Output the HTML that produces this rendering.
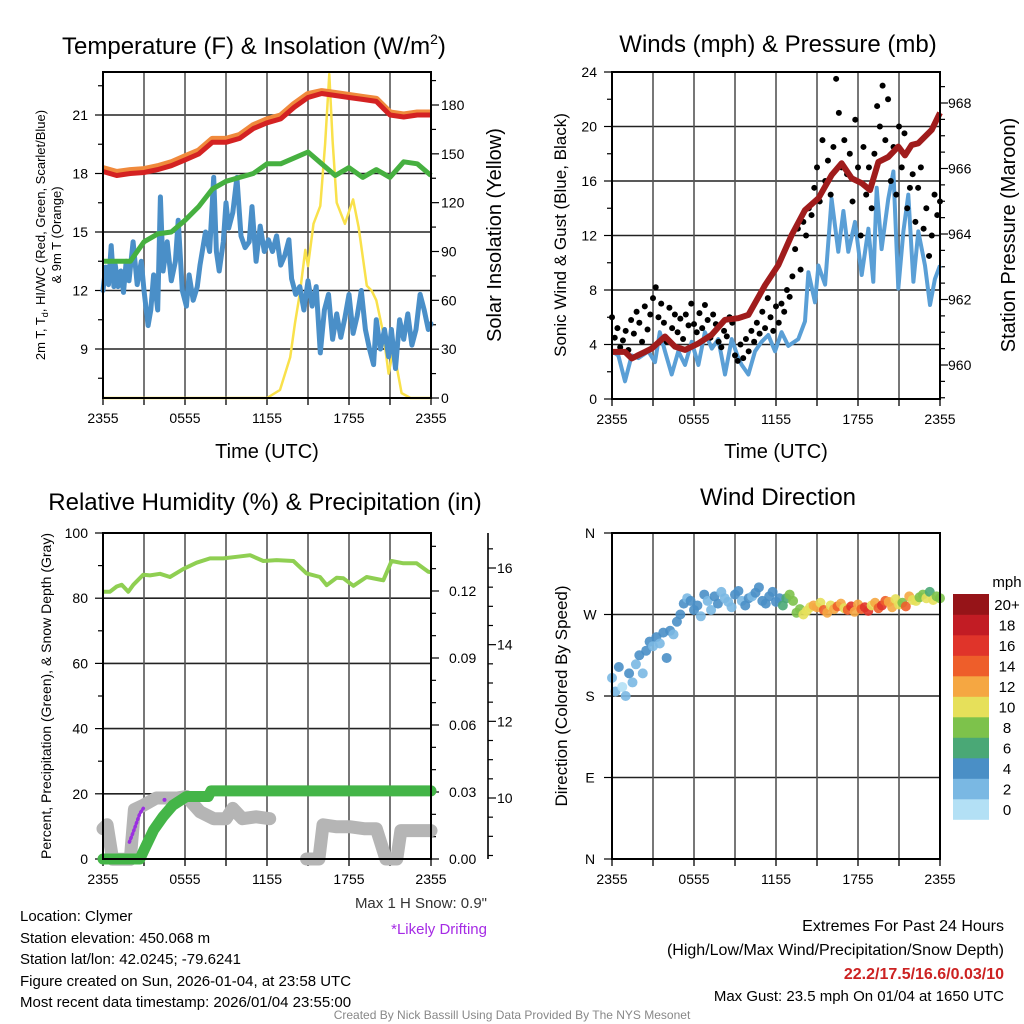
<!DOCTYPE html>
<html><head><meta charset="utf-8"><style>
html,body{margin:0;padding:0;background:#fff;}
svg{display:block;font-family:"Liberation Sans",Arial,sans-serif;}
</style></head><body>
<svg id="chart" width="1024" height="1024" viewBox="0 0 1024 1024" xmlns="http://www.w3.org/2000/svg"></svg>
<script>
// ---------- DATA ----------
const xTickLabels = ["2355","0555","1155","1755","2355"];
// Panel 1
const tempHours = [0,1,2,3,4,5,6,7,8,9,10,11,12,13,14,15,16,17,18,19,20,21,22,23,24];
const temp2m = [18.1,17.9,18.0,18.05,18.2,18.4,18.7,19.0,19.6,19.6,19.8,20.3,20.6,20.8,21.4,21.9,22.1,22.0,21.9,21.8,21.7,21.0,20.9,21.0,21.0];
const temp9m = [18.25,18.05,18.15,18.2,18.35,18.55,18.85,19.15,19.75,19.75,19.95,20.45,20.75,20.95,21.55,22.05,22.2,22.1,22.0,21.9,21.8,21.1,21.0,21.1,21.1];
const dewpt = [13.5,13.5,13.5,14.5,14.9,15.0,15.6,16.3,17.2,17.6,17.8,18.0,18.5,18.5,18.8,19.1,18.5,17.9,18.3,17.8,18.2,17.8,18.6,18.5,17.9];
const wcHours = [0,0.2,0.4,0.6,0.8,0.9,1.1,1.3,1.5,1.7,1.9,2.2,2.5,2.8,3.0,3.3,3.5,3.7,4.0,4.2,4.4,4.7,5.0,5.3,5.5,5.8,6.1,6.3,6.6,6.9,7.1,7.5,7.8,8.1,8.3,8.5,8.8,9.0,9.2,9.5,9.8,10.1,10.4,10.7,10.9,11.2,11.5,11.8,12.1,12.4,12.7,13.0,13.3,13.6,13.8,14.1,14.4,14.7,15.0,15.3,15.6,15.9,16.2,16.5,16.8,17.1,17.4,17.7,18.0,18.3,18.6,18.9,19.2,19.5,19.8,20.0,20.3,20.6,20.9,21.1,21.4,21.7,22.0,22.3,22.6,22.9,23.2,23.5,23.8,24.0];
const windChill = [12.0,13.2,12.3,14.3,12.2,13.3,12.2,13.0,11.9,13.5,12.5,14.5,12.3,13.5,12.0,10.2,11.0,12.8,11.0,16.8,13.0,14.5,12.5,13.5,15.6,12.0,11.2,12.8,11.5,12.2,13.3,15.0,14.0,17.8,14.0,13.0,14.5,16.5,15.2,16.0,17.8,14.8,14.2,14.5,16.3,13.5,15.3,14.0,14.6,14.0,14.8,13.3,13.8,14.6,12.6,11.8,12.2,11.0,12.5,11.2,12.2,8.8,11.0,11.8,9.5,10.8,9.6,10.6,11.8,9.8,10.7,12.0,10.0,9.0,8.2,10.5,9.0,10.0,8.6,10.0,8.0,10.5,9.5,10.8,9.2,10.0,11.8,11.0,10.0,10.3];
const solarHours = [0,12.0,12.95,13.7,14.05,14.4,14.8,15.0,15.4,15.9,16.25,16.56,16.8,17.1,17.7,18.3,18.7,19.3,19.65,20.0,20.5,20.9,21.25,21.5,21.85,22.5,24];
const solar = [0,0,5,25,46,64,91,81,107,118,156,199,158,120,107,122,105,69,66,60,40,15,30,19,3,0,0];
// Panel 2
const windHours = [0,0.46,0.95,1.44,1.93,2.66,3.15,3.5,3.88,4.37,4.85,5.34,5.83,6.32,6.8,7.3,7.78,8.27,8.76,9.24,9.49,9.98,10.46,10.95,11.44,11.93,12.41,12.9,13.63,14.12,14.37,14.85,15.1,15.59,16.07,16.56,16.93,17.29,17.78,18.27,18.76,19.12,19.37,19.73,20.22,20.59,20.95,21.32,21.68,22.05,22.41,22.9,23.27,23.63,24];
const windSpeed = [3.5,3.2,1.3,3.2,3.0,3.5,2.7,4.9,3.5,1.8,3.5,2.5,4.2,2.5,4.9,3.7,4.4,1.8,4.4,3.0,2.5,1.8,3.5,4.2,4.7,3.5,4.9,3.9,4.4,5.7,9.3,7.1,9.8,8.4,14.7,10.8,13.8,10.8,13.0,9.1,12.5,8.6,15.5,11.0,14.7,16.7,8.1,12.3,15.0,8.6,12.3,9.8,6.9,8.8,9.8];
const gusts = [6,4.5,5.2,3.8,4.3,5.0,3.6,5.8,4.8,6.4,5.6,4.2,6.8,5.1,6.2,7.4,8.2,6.0,7.0,5.6,4.2,6.7,5.2,6.2,4.9,5.9,4.4,6.2,5.4,7.0,5.5,4.9,6.3,5.2,6.9,5.8,4.5,6.2,5.5,4.2,3.8,5.0,4.6,6.0,5.6,3.2,2.8,4.0,3.0,4.4,3.5,5.0,4.2,5.6,4.8,6.4,5.2,7.4,6.0,5.0,6.8,5.6,7.0,6.4,8.0,7.5,9.0,11.0,12.5,9.5,13.0,12.0,14.0,13.5,15.5,17.0,14.5,19.0,16.0,17.5,15.0,18.5,23.5,21.0,17.0,19.0,16.5,18.0,14.5,20.5,17.0,12.0,18.5,15.0,17.0,14.0,18.0,21.5,20.0,23.0,19.0,22.0,16.0,18.5,15.0,20.0,17.0,19.5,14.0,15.5,16.5,13.0,15.5,17.0,12.5,14.0,10.5,12.0,15.0,13.5,14.5];
const presHours = [0,0.95,1.44,2.41,2.9,3.88,4.61,5.34,6.32,7.29,8.27,9.24,9.98,11.2,12.17,13.15,14.12,15.1,16.07,16.8,17.54,18.27,18.88,19.49,20.22,20.95,21.44,21.93,22.41,23.39,24];
const pressure = [960.4,960.4,960.2,960.4,960.5,960.87,960.56,960.46,960.66,960.92,961.38,961.43,961.53,962.44,963.05,963.97,964.73,965.09,965.8,966.16,965.7,965.55,965.34,966.2,966.35,966.67,966.4,966.72,966.77,967.18,967.7];
// Panel 3
const rhHours = [0,0.51,1.0,1.37,1.85,2.22,2.95,3.44,4.17,4.9,5.88,6.85,7.83,8.8,9.78,10.76,11.73,12.7,13.93,14.9,15.88,16.37,17.1,17.59,18.32,19.29,20.51,21.12,21.98,22.95,23.8,24];
const rh = [82.0,82.0,83.6,84.1,82.0,84.1,87.2,87.0,87.5,86.5,89.0,90.9,92.2,92.2,92.7,93.2,91.4,91.7,91.4,87.6,86.5,84.0,86.3,86.1,83.8,86.5,85.5,91.4,90.7,90.7,88.1,88.0];
const precipHours = [0,2.7,3.0,3.7,4.4,5.1,6.1,7.7,7.9,24];
const precip = [0,0,0.004,0.013,0.019,0.024,0.028,0.028,0.0305,0.0305];
const snowHours1 = [0,0.3,0.7,2.0,2.3,2.9,3.9,4.6,5.4,6.1,7.1,8.1,9.0,9.5,10.2,11.2,12.2];
const snow1 = [9.2,9.3,8.4,8.4,9.7,9.8,10.0,10.0,10.0,10.04,9.64,9.46,9.46,9.73,9.46,9.51,9.46];
const snowHours2 = [14.9,15.8,16.1,17.1,18.1,19.1,20.0,20.7,21.5,21.8,22.9,24];
const snow2 = [8.41,8.41,9.3,9.25,9.25,9.2,9.2,8.41,8.41,9.15,9.15,9.15];
const driftHours = [1.93,2.2,2.45,2.7,2.95];
const drift = [8.85,9.1,9.35,9.6,9.73];
const driftHours2 = [4.5];
const drift2 = [9.95];
// Panel 4
const dirDeg = [200,185,212,190,180,205,195,215,225,205,230,240,235,245,238,250,222,252,248,262,270,282,288,285,275,280,268,292,285,275,290,282,295,288,284,278,292,296,285,280,288,290,294,300,285,282,290,295,284,288,280,288,292,285,272,276,270,274,278,280,278,283,275,272,280,276,279,282,277,275,279,273,281,276,278,274,280,283,277,280,285,284,278,287,281,283,279,290,286,285,289,292,288,295,286,290,288];
const dirSpeed = [3,2,4,1.5,3,5,3,2,4,3,5,4,2,5,3,4,5,4,3,5,4,5,3,4,5,4,3,5,2,3,5,4,3,3,2,3,5,4,3,4,5,3,5,4,5,4,5,4,5,5,6,7,8,9,8,9,10,11,10,12,13,11,14,12,10,13,15,12,11,14,16,13,12,15,17,16,11,13,15,17,14,12,13,10,11,9,15,12,11,10,9,8,11,7,10,9,8];
const cbLabels = ["0","2","4","6","8","10","12","14","16","18","20+"];
const cbColors = ["#b3e0f5","#7ab8e3","#4a8fc6","#4aa876","#7dc24b","#e6e05a","#f5a742","#ee5e2a","#e0342a","#c21c24","#961418"];

// ---------- HELPERS ----------
const NS = "http://www.w3.org/2000/svg";
const svg = document.getElementById("chart");
function mk(tag, attrs, parent){
  const e = document.createElementNS(NS, tag);
  for (const k in attrs) e.setAttribute(k, attrs[k]);
  (parent || svg).appendChild(e);
  return e;
}
function txt(str, x, y, size, anchor, parent, extra){
  const e = mk("text", Object.assign({x:x, y:y, "font-size":size, "text-anchor":anchor||"start", fill:"#000"}, extra||{}), parent);
  e.textContent = str;
  return e;
}
function scale(d0, d1, r0, r1){ return v => r0 + (v - d0) * (r1 - r0) / (d1 - d0); }
function pathD(xs, ys, fx, fy){ return xs.map((h,i)=> (i?"L":"M") + fx(h).toFixed(1) + "," + fy(ys[i]).toFixed(1)).join(""); }

function frame(x0, y0, x1, y1, name){
  const g = mk("g", {});
  
  
  return g;
}
function vgrid(g, x0, x1, y0, y1, fx){
  for (let h = 3; h < 24; h += 3){
    const l = mk("line", {x1:fx(h), x2:fx(h), y1:y0, y2:y1, stroke:"#555", "stroke-width":1.6}, g);
    
    
  }
  for (let h = 0; h <= 24; h += 3){
    const t = mk("line", {x1:fx(h), x2:fx(h), y1:y1, y2:y1+7, stroke:"#000", "stroke-width":1.3}, g);
    
    
  }
  xTickLabels.forEach((s,i)=>{
    const t = txt(s, fx(i*6), y1+25, 14, "middle", g);
    
    
  });
}
function hgrid(g, x0, x1, y){
  const l = mk("line", {x1:x0, x2:x1, y1:y, y2:y, stroke:"#222", "stroke-width":1.6}, g);
  
  
}
function tick(g, x, y, len){
  const t = mk("line", {x1:x, x2:x+len, y1:y, y2:y, stroke:"#000", "stroke-width":1.2}, g);
  
  
}
function border(g, x0, y0, x1, y1){
  const r = mk("rect", {x:x0, y:y0, width:x1-x0, height:y1-y0, fill:"none", stroke:"#000", "stroke-width":2}, g);
  
  
}

// ---------- PANEL 1 ----------
(function(){
  const X0=103, X1=431, Y0=72, Y1=398;
  const fx = scale(0,24,X0,X1);
  const fy = scale(9,21,349,115);
  const fs = scale(0,180,398,105);
  const g = frame(X0,Y0,X1,Y1,"temperature-panel");
  [9,12,15,18,21].forEach(v=>hgrid(g,X0,X1,fy(v)));
  vgrid(g,X0,X1,Y0,Y1,fx);
  for (let v=7.5; v<=22.5; v+=1.5) tick(g, X0, fy(v), (v%3===0)?-8:-5);
  [9,12,15,18,21].forEach(v=>{ const t=txt(String(v), 88, fy(v)+5, 14, "end", g);   });
  for (let v=0; v<=195; v+=15) tick(g, X1, fs(v), (v%30===0)?8:5);
  [0,30,60,90,120,150,180].forEach(v=>{ const t=txt(String(v), 441, fs(v)+5, 14, "start", g);   });

  const so = mk("path", {d:pathD(solarHours,solar,fx,fs), fill:"none", stroke:"#f9e14b", "stroke-width":2.5, "stroke-linejoin":"round"}, g);
  
  
  const wc = mk("path", {d:pathD(wcHours,windChill,fx,fy), fill:"none", stroke:"#4a8fc8", "stroke-width":5, "stroke-linejoin":"round", "stroke-linecap":"round"}, g);
  
  
  const dp = mk("path", {d:pathD(tempHours,dewpt,fx,fy), fill:"none", stroke:"#46b040", "stroke-width":5, "stroke-linejoin":"round"}, g);
  
  
  const t9 = mk("path", {d:pathD(tempHours,temp9m,fx,fy), fill:"none", stroke:"#f08a3c", "stroke-width":7, "stroke-linejoin":"round"}, g);
  
  
  const t2 = mk("path", {d:pathD(tempHours,temp2m,fx,fy), fill:"none", stroke:"#d42222", "stroke-width":5, "stroke-linejoin":"round"}, g);
  
  
  border(g,X0,Y0,X1,Y1);
  const ti = txt("Temperature (F) & Insolation (W/m", 62, 54, 24, "start", g);
  const sup = mk("tspan", {dy:-10, "font-size":14}, ti); sup.textContent="2";
  const cl = mk("tspan", {dy:10}, ti); cl.textContent=")";
  
  
  const xt = txt("Time (UTC)", 267, 458, 20, "middle", g);
  
  
  const yl = txt("2m T, T", 0, 0, 13, "middle", g, {transform:"translate(45,235) rotate(-90)"});
  const sd = mk("tspan", {dy:3, "font-size":9}, yl); sd.textContent="d";
  const r2 = mk("tspan", {dy:-3}, yl); r2.textContent=", HI/WC (Red, Green, Scarlet/Blue)";
  
  
  const yl2 = txt("& 9m T (Orange)", 0, 0, 13, "middle", g, {transform:"translate(61,235) rotate(-90)"});
  
  
  const yr = txt("Solar Insolation (Yellow)", 0, 0, 20, "middle", g, {transform:"translate(501,235) rotate(-90)"});
  
  
})();

// ---------- PANEL 2 ----------
(function(){
  const X0=612, X1=940, Y0=72, Y1=399;
  const fx = scale(0,24,X0,X1);
  const fy = scale(0,24,Y1,Y0);
  const fp = scale(960,968,365,103);
  const g = frame(X0,Y0,X1,Y1,"winds-panel");
  [4,8,12,16,20].forEach(v=>hgrid(g,X0,X1,fy(v)));
  vgrid(g,X0,X1,Y0,Y1,fx);
  for (let v=0; v<=24; v+=2) tick(g, X0, fy(v), (v%4===0)?-8:-5);
  [0,4,8,12,16,20,24].forEach(v=>{ const t=txt(String(v), 597, fy(v)+5, 14, "end", g);   });
  for (let v=959; v<=968.5; v+=0.5) tick(g, X1, fp(v), (v%2===0)?8:5);
  [960,962,964,966,968].forEach(v=>{ const t=txt(String(v), 948, fp(v)+5, 14, "start", g);   });

  const ws = mk("path", {d:pathD(windHours,windSpeed,fx,fy), fill:"none", stroke:"#5a9fd6", "stroke-width":4, "stroke-linejoin":"round"}, g);
  
  
  gusts.forEach((v,i)=>{
    const c = mk("circle", {cx:fx(i*24/(gusts.length-1)), cy:fy(v), r:3, fill:"#000"}, g);
    
    
  });
  const pr = mk("path", {d:pathD(presHours,pressure,fx,fp), fill:"none", stroke:"#a01c1c", "stroke-width":6, "stroke-linejoin":"round"}, g);
  
  
  border(g,X0,Y0,X1,Y1);
  const ti = txt("Winds (mph) & Pressure (mb)", 778, 52, 24, "middle", g);
  
  
  const xt = txt("Time (UTC)", 776, 458, 20, "middle", g);
  
  
  const yl = txt("Sonic Wind & Gust (Blue, Black)", 0, 0, 17, "middle", g, {transform:"translate(566,235) rotate(-90)"});
  
  
  const yr = txt("Station Pressure (Maroon)", 0, 0, 20, "middle", g, {transform:"translate(1015,235) rotate(-90)"});
  
  
})();

// ---------- PANEL 3 ----------
(function(){
  const X0=103, X1=431, Y0=533, Y1=859;
  const fx = scale(0,24,X0,X1);
  const fy = scale(0,100,Y1,Y0);
  const fp = scale(0,0.12,Y1,591);
  const fsn = scale(10,16,798,568);
  const g = frame(X0,Y0,X1,Y1,"humidity-panel");
  [20,40,60,80].forEach(v=>hgrid(g,X0,X1,fy(v)));
  vgrid(g,X0,X1,Y0,Y1,fx);
  for (let v=0; v<=100; v+=10) tick(g, X0, fy(v), (v%20===0)?-8:-5);
  [0,20,40,60,80,100].forEach(v=>{ const t=txt(String(v), 88, fy(v)+5, 14, "end", g);   });
  for (let k=0; k<=14; k++) tick(g, X1, fp(k*0.01), (k%3===0)?8:5);
  ["0.00","0.03","0.06","0.09","0.12"].forEach((s,i)=>{ const t=txt(s, 449, fp(i*0.03)+5, 14, "start", g);   });
  const sax = mk("line", {x1:488, x2:488, y1:Y0, y2:Y1, stroke:"#000", "stroke-width":1.6}, g);
  
  
  for (let v=8.5; v<=16.75; v+=0.5) tick(g, 488, fsn(v), (v%2===0)?8:5);
  [10,12,14,16].forEach(v=>{ const t=txt(String(v), 497, fsn(v)+5, 14, "start", g);   });

  const s1 = mk("path", {d:pathD(snowHours1,snow1,fx,fsn), fill:"none", stroke:"#b5b5b5", "stroke-width":13, "stroke-linejoin":"round", "stroke-linecap":"round"}, g);
  
  
  const s2 = mk("path", {d:pathD(snowHours2,snow2,fx,fsn), fill:"none", stroke:"#b5b5b5", "stroke-width":13, "stroke-linejoin":"round", "stroke-linecap":"round"}, g);
  
  
  const dr = mk("path", {d:pathD(driftHours,drift,fx,fsn), fill:"none", stroke:"#9b30e0", "stroke-width":3.5, "stroke-dasharray":"1 3", "stroke-linecap":"round"}, g);
  
  
  driftHours2.forEach((h,i)=>{ const c=mk("circle",{cx:fx(h),cy:fsn(drift2[i]),r:2,fill:"#9b30e0"},g);   });
  const pc = mk("path", {d:pathD(precipHours,precip,fx,fp), fill:"none", stroke:"#44b548", "stroke-width":11, "stroke-linejoin":"round", "stroke-linecap":"round"}, g);
  
  
  const rl = mk("path", {d:pathD(rhHours,rh,fx,fy), fill:"none", stroke:"#8fcf52", "stroke-width":4, "stroke-linejoin":"round"}, g);
  
  
  border(g,X0,Y0,X1,Y1);
  const ti = txt("Relative Humidity (%) & Precipitation (in)", 265, 510, 24, "middle", g);
  
  
  const yl = txt("Percent, Precipitation (Green), & Snow Depth (Gray)", 0, 0, 14, "middle", g, {transform:"translate(51,696) rotate(-90)"});
  
  
})();

// ---------- PANEL 4 ----------
(function(){
  const X0=612, X1=940, Y0=533, Y1=859;
  const fx = scale(0,24,X0,X1);
  const fy = scale(0,360,Y1,Y0);
  const g = frame(X0,Y0,X1,Y1,"wind-direction-panel");
  [90,180,270].forEach(v=>hgrid(g,X0,X1,fy(v)));
  vgrid(g,X0,X1,Y0,Y1,fx);
  ["N","E","S","W","N"].forEach((s,i)=>{
    tick(g, X0, fy(i*90), -8);
    const t = txt(s, 590, fy(i*90)+5, 14, "middle", g);
    
    
  });
  dirDeg.forEach((d,i)=>{
    const bin = Math.min(10, Math.floor(dirSpeed[i]/2));
    const c = mk("circle", {cx:fx(i*24/(dirDeg.length-1)), cy:fy(d), r:5, fill:cbColors[bin], "fill-opacity":0.9}, g);
    
    
  });
  border(g,X0,Y0,X1,Y1);
  const ti = txt("Wind Direction", 778, 505, 24, "middle", g);
  
  
  const yl = txt("Direction (Colored By Speed)", 0, 0, 17, "middle", g, {transform:"translate(567,696) rotate(-90)"});
  
  
  // colorbar
  const cb = mk("g", {}, g);
  
  
  const cbTop = 594, cbH = 20.5;
  cbColors.forEach((col,i)=>{
    const r = mk("rect", {x:953, y:cbTop + (10-i)*cbH, width:36, height:cbH+0.3, fill:col}, cb);
    
    
    const t = txt(cbLabels[i], 1007, cbTop + (10-i)*cbH + 16, 15, "middle", cb);
    
    
  });
  const u = txt("mph", 1007, 587, 15, "middle", cb);
  
  
})();
</script>
<svg width="0" height="0"></svg>
<div style="position:absolute;left:0;top:0;width:1024px;height:1024px;pointer-events:none;font-family:'Liberation Sans',Arial,sans-serif;">
  <div style="position:absolute;left:20px;top:906px;font-size:15px;line-height:21.5px;color:#000;">
    <div>Location: Clymer</div>
    <div>Station elevation: 450.068 m</div>
    <div>Station lat/lon: 42.0245; -79.6241</div>
    <div>Figure created on Sun, 2026-01-04, at 23:58 UTC</div>
    <div>Most recent data timestamp: 2026/01/04 23:55:00</div>
  </div>
  <div style="position:absolute;right:537px;top:895px;font-size:15px;color:#333;text-align:right;">Max 1 H Snow: 0.9"</div>
  <div style="position:absolute;right:537px;top:921px;font-size:15px;color:#a52be5;text-align:right;">*Likely Drifting</div>
  <div style="position:absolute;right:20px;top:915px;font-size:16px;line-height:24px;text-align:right;color:#000;">
    <div>Extremes For Past 24 Hours</div>
    <div>(High/Low/Max Wind/Precipitation/Snow Depth)</div>
    <div style="color:#cc2222;font-weight:bold;line-height:24px;">22.2/17.5/16.6/0.03/10</div>
    <div style="font-size:15px;line-height:20px;">Max Gust: 23.5 mph On 01/04 at 1650 UTC</div>
  </div>
  <div style="position:absolute;left:0;width:1024px;top:1008px;font-size:12px;color:#888;text-align:center;">Created By Nick Bassill Using Data Provided By The NYS Mesonet</div>
</div>
</body></html>
